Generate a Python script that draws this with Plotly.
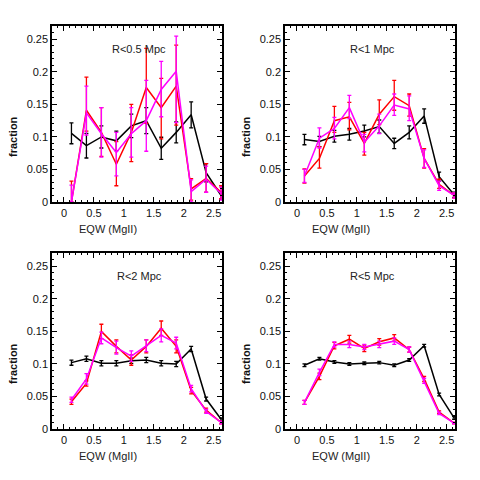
import plotly.graph_objects as go

eqw = [0.125, 0.375, 0.625, 0.875, 1.125, 1.375, 1.625, 1.875, 2.125, 2.375, 2.625]
titles = ["R<0.5 Mpc", "R<1 Mpc", "R<2 Mpc", "R<5 Mpc"]

black_05 = [0.1055, 0.0866, 0.100, 0.094, 0.117, 0.125, 0.0825, 0.107, 0.134, 0.045, 0.010]
black_05_err = [0.016, 0.019, 0.017, 0.015, 0.018, 0.020, 0.017, 0.016, 0.020, 0.014, 0.006]
red_05 = [0.0, 0.141, 0.107, 0.058, 0.107, 0.176, 0.145, 0.178, 0.020, 0.036, 0.015]
red_05_hi = [0.032, 0.051, 0.038, 0.035, 0.043, 0.060, 0.045, 0.063, 0.016, 0.023, 0.010]
red_05_lo = [0.0, 0.032, 0.037, 0.033, 0.045, 0.055, 0.048, 0.060, 0.017, 0.021, 0.010]
mag_05 = [0.0, 0.137, 0.105, 0.076, 0.105, 0.125, 0.173, 0.201, 0.016, 0.035, 0.013]
mag_05_hi = [0.026, 0.041, 0.040, 0.031, 0.040, 0.062, 0.043, 0.054, 0.018, 0.020, 0.010]
mag_05_lo = [0.0, 0.034, 0.036, 0.036, 0.036, 0.047, 0.042, 0.079, 0.016, 0.020, 0.010]

black_1 = [0.096, 0.093, 0.101, 0.104, 0.109, 0.116, 0.090, 0.107, 0.132, 0.039, 0.011]
black_1_err = [0.008, 0.008, 0.009, 0.009, 0.009, 0.010, 0.008, 0.010, 0.011, 0.007, 0.004]
red_1 = [0.040, 0.067, 0.125, 0.131, 0.090, 0.135, 0.162, 0.148, 0.067, 0.027, 0.010]
red_1_hi = [0.011, 0.018, 0.022, 0.022, 0.017, 0.022, 0.025, 0.018, 0.015, 0.008, 0.004]
red_1_lo = [0.011, 0.015, 0.018, 0.020, 0.018, 0.016, 0.021, 0.016, 0.015, 0.006, 0.004]
mag_1 = [0.040, 0.098, 0.113, 0.145, 0.092, 0.117, 0.149, 0.143, 0.067, 0.025, 0.010]
mag_1_hi = [0.010, 0.016, 0.017, 0.019, 0.012, 0.018, 0.017, 0.020, 0.013, 0.007, 0.004]
mag_1_lo = [0.010, 0.015, 0.016, 0.017, 0.015, 0.012, 0.016, 0.018, 0.014, 0.007, 0.004]

black_2 = [0.102, 0.108, 0.101, 0.101, 0.105, 0.106, 0.101, 0.100, 0.123, 0.046, 0.015]
black_2_err = [0.004, 0.004, 0.004, 0.004, 0.004, 0.004, 0.004, 0.004, 0.004, 0.003, 0.002]
red_2 = [0.042, 0.070, 0.150, 0.127, 0.106, 0.127, 0.155, 0.127, 0.059, 0.029, 0.010]
red_2_err = [0.004, 0.004, 0.011, 0.010, 0.008, 0.010, 0.011, 0.010, 0.005, 0.003, 0.002]
mag_2 = [0.045, 0.077, 0.140, 0.125, 0.112, 0.128, 0.144, 0.132, 0.062, 0.027, 0.010]
mag_2_err = [0.004, 0.008, 0.009, 0.010, 0.008, 0.009, 0.010, 0.009, 0.005, 0.003, 0.002]

black_5 = [0.098, 0.108, 0.103, 0.100, 0.101, 0.102, 0.098, 0.106, 0.128, 0.053, 0.017]
black_5_err = [0.002] * 11
red_5 = [0.041, 0.081, 0.128, 0.138, 0.124, 0.134, 0.140, 0.122, 0.077, 0.026, 0.009]
red_5_err = [0.003, 0.005, 0.005, 0.006, 0.005, 0.005, 0.005, 0.004, 0.004, 0.002, 0.001]
mag_5 = [0.041, 0.087, 0.130, 0.130, 0.126, 0.130, 0.135, 0.122, 0.074, 0.024, 0.009]
mag_5_err = [0.003, 0.005, 0.004, 0.005, 0.004, 0.005, 0.005, 0.004, 0.004, 0.002, 0.001]

panels = [
    (black_05, black_05_err, black_05_err, red_05, red_05_hi, red_05_lo, mag_05, mag_05_hi, mag_05_lo),
    (black_1, black_1_err, black_1_err, red_1, red_1_hi, red_1_lo, mag_1, mag_1_hi, mag_1_lo),
    (black_2, black_2_err, black_2_err, red_2, red_2_err, red_2_err, mag_2, mag_2_err, mag_2_err),
    (black_5, black_5_err, black_5_err, red_5, red_5_err, red_5_err, mag_5, mag_5_err, mag_5_err),
]

OFF = 8  # page body margin
W = H = 480 - OFF
# pixel frames in screen coords: (left, right, top, bottom)
frames = [(52, 222, 26, 202), (285, 455, 26, 202), (52, 222, 253, 429), (285, 455, 253, 429)]
xtitle_x = [108, 341, 108, 341]


def px(xs):
    return (xs - OFF) / W


def py(ys):
    return 1 - (ys - OFF) / H


fig = go.Figure()
FONT = "Liberation Sans, Arial, Helvetica, sans-serif"

for i, (p, fr) in enumerate(zip(panels, frames)):
    ax = "" if i == 0 else str(i + 1)
    xa, ya = "x" + ax, "y" + ax
    bk, bkh, bkl, rd, rdh, rdl, mg, mgh, mgl = p
    for yv, hi, lo, col in [(bk, bkh, bkl, "black"), (rd, rdh, rdl, "#ff0000"), (mg, mgh, mgl, "#ff00ff")]:
        fig.add_trace(go.Scatter(
            x=eqw, y=yv, mode="lines", xaxis=xa, yaxis=ya,
            line=dict(color=col, width=1.5), showlegend=False,
            error_y=dict(type="data", array=hi, arrayminus=lo, symmetric=False,
                         color=col, thickness=1.3, width=2),
            cliponaxis=True,
        ))
    l, r, t, b = fr
    common = dict(showline=True, linecolor="black", linewidth=1.5, mirror="allticks",
                  ticks="inside", tickcolor="black", tickwidth=1.2, ticklen=5,
                  showgrid=False, zeroline=False, automargin=False,
                  tickfont=dict(family=FONT, size=11, color="#111"))
    fig.layout["xaxis" + ax] = dict(
        domain=[px(l), px(r)], anchor=ya, range=[-0.2, 2.64],
        tickvals=[0, 0.5, 1, 1.5, 2, 2.5], ticktext=["0", "0.5", "1", "1.5", "2", "2.5"],
        minor=dict(dtick=0.1, tick0=0, ticks="inside", ticklen=2.5, tickcolor="black", tickwidth=1),
        **common)
    fig.layout["yaxis" + ax] = dict(
        domain=[py(b), py(t)], anchor=xa, range=[0, 0.2705],
        tickvals=[0, 0.05, 0.1, 0.15, 0.2, 0.25], ticktext=["0", "0.05", "0.1", "0.15", "0.2", "0.25"],
        minor=dict(dtick=0.01, tick0=0, ticks="inside", ticklen=2.5, tickcolor="black", tickwidth=1),
        **common)
    # panel title
    fig.add_annotation(x=px((l + r) / 2 + 2), y=py(t + 23), xref="paper", yref="paper",
                       xanchor="center", yanchor="middle",
                       text=titles[i], showarrow=False,
                       font=dict(family=FONT, size=11, color="#222"))
    # x title
    fig.add_annotation(x=px(xtitle_x[i]), y=py(b + 27), xref="paper", yref="paper",
                       xanchor="center", yanchor="middle",
                       text="EQW (MgII)", showarrow=False,
                       font=dict(family=FONT, size=11, color="#222"))
    # y title
    fig.add_annotation(x=px(l - 39), y=py((t + b) / 2 + 23), xref="paper", yref="paper",
                       xanchor="center", yanchor="middle",
                       text="<b>fraction</b>", showarrow=False, textangle=-90,
                       font=dict(family=FONT, size=11, color="#111"))

fig.update_layout(width=W, height=H, margin=dict(l=0, r=0, t=0, b=0, autoexpand=False),
                  paper_bgcolor="white", plot_bgcolor="white")
fig.write_html("out.html")
